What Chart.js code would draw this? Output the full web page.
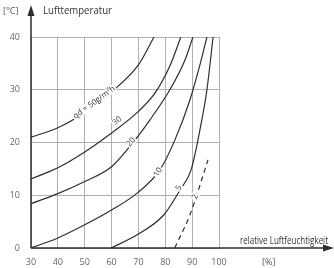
<!DOCTYPE html>
<html>
<head>
<meta charset="utf-8">
<script src="https://cdn.jsdelivr.net/npm/chart.js@4"></script>
<style>
html, body { margin: 0; padding: 0; background: #fff; }
</style>
</head>
<body>
<canvas id="chart" width="334" height="268"></canvas>
<script>
// relative humidity [%] / air temperature [°C] for each evaporation line
const q50 = [[30, 21.0], [40, 22.8], [50, 25.7], [60, 29.6], [70, 34.7], [75.8, 40]];
const q30 = [[30, 13.1], [40, 15.2], [50, 18.2], [60, 21.8], [70, 25.9], [76.2, 29.4], [81.7, 34.5], [85.8, 40]];
const q20 = [[30, 8.4], [40, 10.3], [50, 12.6], [60, 15.4], [66.9, 19.3], [74.3, 24.3], [81.7, 30], [87.3, 35.6], [90.3, 40]];
const q10 = [[30, 0], [40, 1.9], [50, 4.4], [60, 7.2], [69.5, 10.4], [78, 14.8], [83.6, 20.5], [89.2, 28.1], [92.9, 34.7], [95.5, 40]];
const q5 = [[59.8, 0], [69.5, 2.5], [79.5, 6.3], [85.5, 11], [89.6, 14.8], [92.9, 22.4], [95.5, 30], [97.8, 40]];
const q2 = [[83.5, 0], [89.2, 6.3], [92.9, 11.9], [95.9, 16.7]];

const xTicks = [30, 40, 50, 60, 70, 80, 90, 100];
const yTicks = [0, 10, 20, 30, 40];

const curveNames = ['qd = 50g/m²h', '30', '20', '10', '5', '2'];
const curveNameAt = [[53.5, 27.6], [62.0, 24.1], [67.2, 20.1], [77.3, 14.4], [85.1, 11.4], [91.1, 9.7]];
const curveNameAngle = [-36, -40, -50, -60, -65, -70];

const lineColor = '#2e2e2e';
const gridColor = '#b0b0b0';
const font = '"Open Sans", "DejaVu Sans", sans-serif';

function curve(points, dashed) {
    return {
        data: points.map(p => ({ x: p[0], y: p[1] })),
        showLine: true,
        borderColor: lineColor,
        borderWidth: 1.2,
        borderDash: dashed ? [5, 4] : [],
        pointRadius: 0,
        tension: 0.4,
        cubicInterpolationMode: 'monotone',
        fill: false
    };
}

const decor = {
    id: 'decor',
    afterDraw(chart) {
        const c = chart.ctx;
        const xs = chart.scales.x;
        const ys = chart.scales.y;
        const x0 = xs.getPixelForValue(30);
        const y0 = ys.getPixelForValue(0);

        c.save();
        c.strokeStyle = lineColor;
        c.fillStyle = lineColor;
        c.lineWidth = 1.5;
        // axes
        c.beginPath();
        c.moveTo(x0, y0);
        c.lineTo(x0, 12);
        c.moveTo(x0, y0);
        c.lineTo(328, y0);
        c.stroke();
        // arrow heads
        c.beginPath();
        c.moveTo(x0, 5);
        c.lineTo(x0 - 3.5, 16);
        c.lineTo(x0 + 3.5, 16);
        c.closePath();
        c.fill();
        c.beginPath();
        c.moveTo(334, y0);
        c.lineTo(323, y0 - 3.5);
        c.lineTo(323, y0 + 3.5);
        c.closePath();
        c.fill();

        // axis titles
        c.textBaseline = 'middle';
        c.textAlign = 'left';
        c.fillStyle = '#555';
        c.font = '9px ' + font;
        c.fillText('[°C]', 3, 11);
        c.fillText('[%]', 262, 262);
        c.fillStyle = '#333';
        c.font = '10px ' + font;
        c.fillText('Lufttemperatur', 43, 11, 69);
        c.fillText('relative Luftfeuchtigkeit', 240, 241, 88);

        // labels on the curves
        curveNames.forEach((name, i) => {
            const px = xs.getPixelForValue(curveNameAt[i][0]);
            const py = ys.getPixelForValue(curveNameAt[i][1]);
            c.save();
            c.translate(px, py);
            c.rotate(curveNameAngle[i] * Math.PI / 180);
            c.font = '8px ' + font;
            const w = c.measureText(name).width;
            c.fillStyle = '#fff';
            c.fillRect(-w / 2 - 1, -4, w + 2, 8);
            c.fillStyle = '#333';
            c.textAlign = 'center';
            c.fillText(name, 0, 0);
            c.restore();
        });
        c.restore();
    }
};

new Chart(document.getElementById('chart'), {
    type: 'scatter',
    data: {
        datasets: [
            curve(q50), curve(q30), curve(q20), curve(q10), curve(q5), curve(q2, true)
        ]
    },
    options: {
        responsive: false,
        animation: false,
        layout: { padding: { top: 37, right: 115, left: 0, bottom: 0 } },
        plugins: { legend: { display: false }, tooltip: { enabled: false } },
        scales: {
            x: {
                type: 'linear',
                min: 30,
                max: 100,
                afterFit: s => { s.height = 20; },
                afterBuildTicks: s => { s.ticks = xTicks.map(v => ({ value: v })); },
                grid: { color: gridColor, lineWidth: 1, drawTicks: false },
                border: { display: false },
                ticks: { padding: 9, color: '#666', font: { family: font, size: 9 } }
            },
            y: {
                type: 'linear',
                min: 0,
                max: 40,
                afterFit: s => { s.width = 31; },
                afterBuildTicks: s => { s.ticks = yTicks.map(v => ({ value: v })); },
                grid: { color: gridColor, lineWidth: 1, drawTicks: false },
                border: { display: false },
                ticks: { padding: 11, color: '#666', font: { family: font, size: 9 } }
            }
        }
    },
    plugins: [decor]
});
</script>
</body>
</html>
